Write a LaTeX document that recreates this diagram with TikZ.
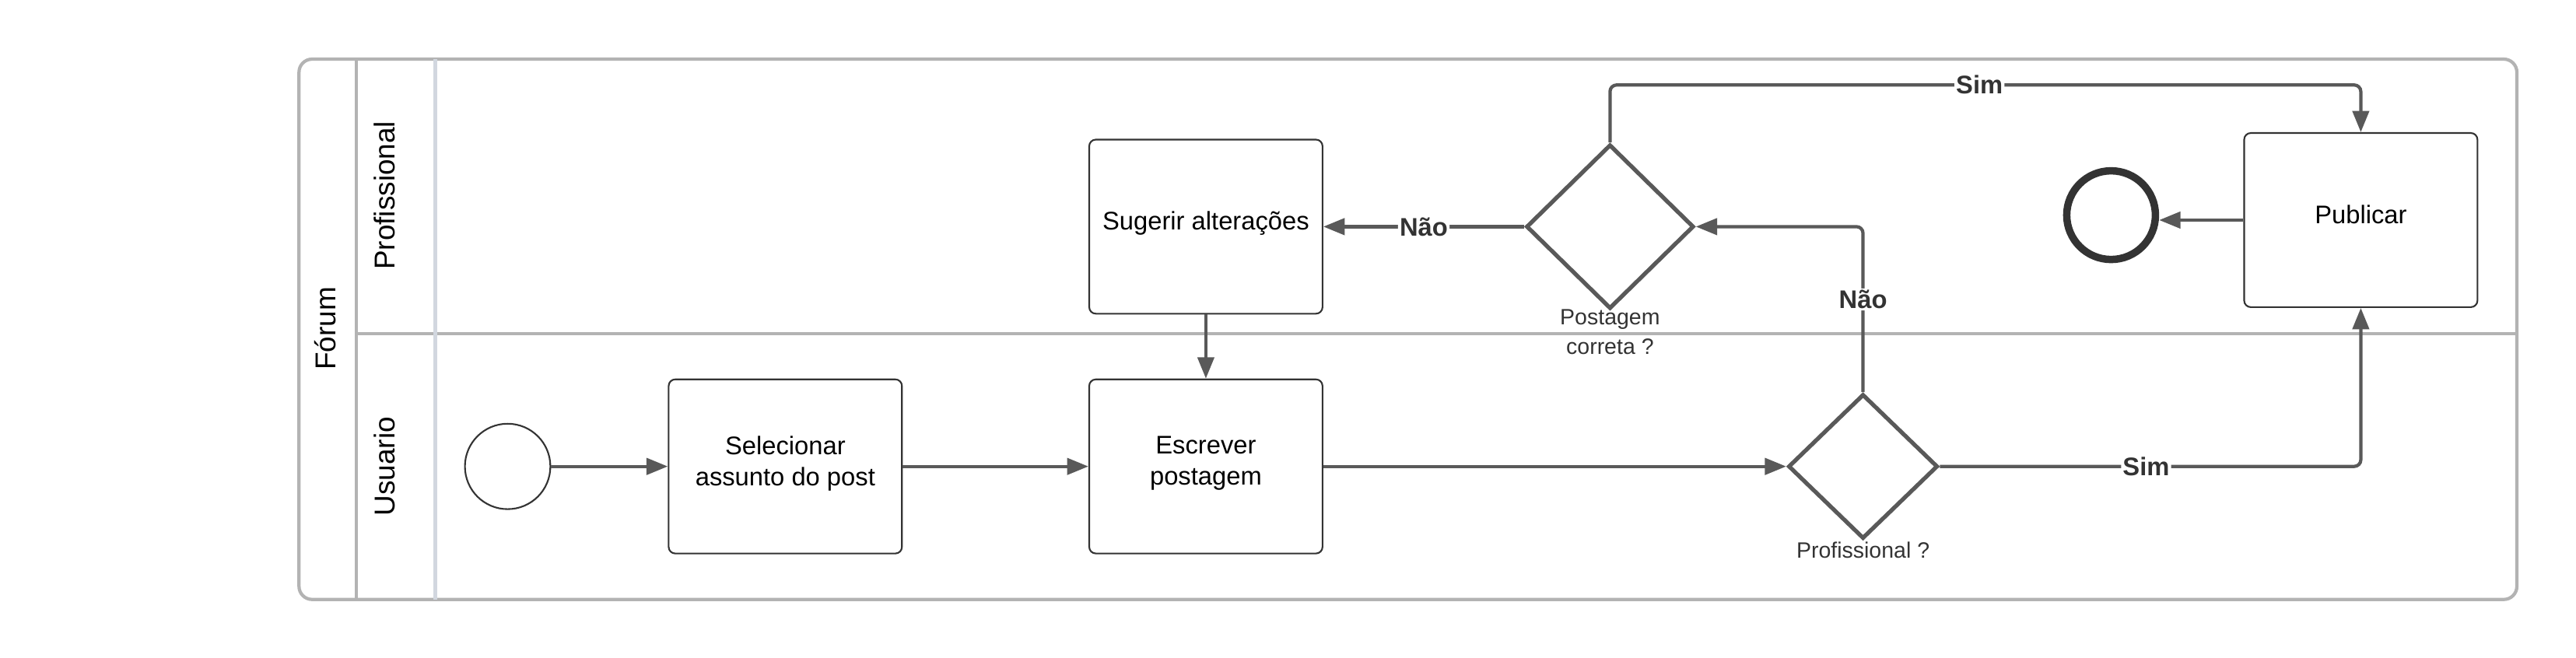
\documentclass[tikz,border=0pt]{standalone}
\usepackage{fontspec}
\setmainfont{Liberation Sans}
\usetikzlibrary{arrows.meta,shapes.geometric}
\definecolor{conn}{HTML}{595959}
\definecolor{poolc}{HTML}{B3B3B3}
\definecolor{hdrc}{HTML}{D2D7DF}
\definecolor{boxc}{HTML}{333333}
\begin{document}
\begin{tikzpicture}[x=1pt,y=-1pt,
  taskbox/.style={draw=boxc, line width=1pt, rounded corners=4pt, minimum width=142pt, minimum height=106pt, align=center, inner sep=0pt, text depth=7pt, font=\fontsize{15.5}{19}\selectfont},
  gate/.style={draw=conn, diamond, line width=2.5pt, inner sep=0pt, minimum width=#1},
  flow/.style={draw=conn, line width=2pt, -{Triangle[length=13pt,width=10pt]}, rounded corners=4pt},
  lbl/.style={fill=white, text=boxc, inner sep=1pt, font=\bfseries\fontsize{15.5}{18}\selectfont},
  dlbl/.style={text=boxc, align=center, inner sep=0pt, font=\fontsize{13.5}{18}\selectfont},
  lane/.style={rotate=90, text=black, inner sep=0pt, font=\fontsize{17.5}{20}\selectfont}]
\useasboundingbox (0,0) rectangle (1568,400.6);
% pool and lanes
\draw[poolc, line width=2pt, rounded corners=8pt] (182,36) rectangle (1532,365);
\draw[poolc, line width=2pt] (217,36) -- (217,365);
\draw[poolc, line width=2pt] (217,203) -- (1532,203);
\draw[hdrc, line width=2pt] (265,36) -- (265,365);
\node[lane] (forum) at (198,200) {Fórum};
\node[lane] (lprof) at (234,119) {Profissional};
\node[lane] (luser) at (234,284) {Usuario};
% nodes
\node[circle, draw=boxc, line width=1pt, minimum size=52pt, inner sep=0pt] (start) at (309,284) {};
\node[taskbox] (sel) at (478,284) {Selecionar\\assunto do post};
\node[taskbox] (esc) at (734,284) {Escrever\\postagem};
\node[taskbox] (sug) at (734,138) {Sugerir alterações};
\node[taskbox] (pub) at (1437,134) {Publicar};
\node[gate, minimum height=100pt] (pc) at (980,138) [minimum width=102pt] {};
\node[gate, minimum height=88pt] (prof) at (1134,284) [minimum width=91pt] {};
\node[dlbl] (pcl) at (980,202) {Postagem\\correta ?};
\node[dlbl] (profl) at (1134,335) {Profissional ?};
\node[circle, draw=boxc, line width=4.5pt, minimum size=54pt, inner sep=0pt] (endc) at (1285,131) {};
% connectors
\draw[flow] (start) -- (sel);
\draw[flow] (sel) -- (esc);
\draw[flow] (esc) -- (prof);
\draw[flow] (prof.north) |- node[lbl, pos=0.28] {Não} (pc.east);
\draw[flow] (pc.west) -- node[lbl] {Não} (sug.east);
\draw[flow] (sug) -- (esc);
\draw[flow] (pc.north) -- ++(0,-35) -| node[lbl, pos=0.246] {Sim} (pub.north);
\draw[flow] (prof.east) -| node[lbl, pos=0.245] {Sim} (pub.south);
\draw[flow] (pub.west) -- (pub.west -| endc.east);
\end{tikzpicture}
\end{document}
